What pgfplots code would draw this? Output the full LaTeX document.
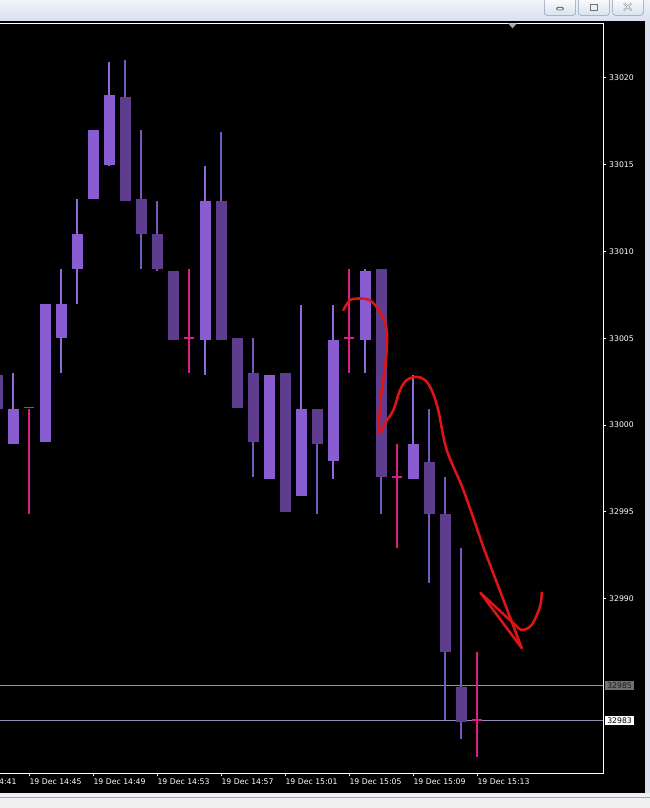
\documentclass[border=0pt]{standalone}
\usepackage{pgfplots}
\pgfplotsset{compat=1.18}
\usepackage{pgfplotstable}
\usepackage{fontspec}
\setmainfont{DejaVu Sans}

\definecolor{bullc}{HTML}{8A5CD1}
\definecolor{bearc}{HTML}{5E3D8E}
\definecolor{bullw}{HTML}{8E6CE0}
\definecolor{bearw}{HTML}{7458C0}
\definecolor{dojic}{HTML}{E01C86}
\definecolor{redc}{HTML}{E01414}
\definecolor{chrome}{HTML}{D8E2EE}
\definecolor{btnb}{HTML}{8A9BB0}

\newcommand\tfont{\fontsize{5.8pt}{7pt}\selectfont}

% minutes after 14:45, open high low close
\pgfplotstableread{
i o h l c
-1 32999 33003 32999 33001
1 32999 33007 32999 33007
2 33005 33009 33003 33007
3 33009 33013 33007 33011
4 33013 33017 33013 33017
5 33015 33021 33015 33019
11 33005 33015 33003 33013
15 32997 33003 32997 33003
17 32996 33007 32996 33001
19 32998 33007 32997 33005
21 33005 33009 33003 33009
24 32997 33003 32997 32999
}\bull
\pgfplotstableread{
i o h l c
-2 33003 33003 33001 33001
6 33019 33021 33013 33013
7 33013 33017 33009 33011
8 33011 33013 33009 33009
9 33009 33009 33005 33005
12 33013 33017 33005 33005
13 33005 33005 33001 33001
14 33003 33005 32997 32999
16 33003 33003 32995 32995
18 33001 33001 32995 32999
22 33009 33009 32995 32997
25 32998 33001 32991 32995
26 32995 32997 32983 32987
27 32985 32993 32982 32983
}\bear
\pgfplotstableread{
i o h l c
0 33001 33001 32995 33001
10 33005 33009 33003 33005
20 33005 33009 33003 33005
23 32997 32999 32993 32997
28 32983 32987 32981 32983
}\doji

\pgfplotsset{
  candle/.style n args={2}{color=#2, draw=none, mark=none, forget plot,
    error bars/.cd, y dir=both, y explicit, error mark=none,
    error bar style={line width=#1, draw=#2, solid}},
}

\begin{document}
\begin{tikzpicture}
% window chrome, pixel units from top left
\begin{scope}[x=0.75pt,y=-0.75pt]
\fill[black] (0,20) rectangle (650,793);
\shade[top color=white!60!chrome, bottom color=chrome] (0,0) rectangle (650,20.5);
\fill[chrome] (645,20) rectangle (650,808);
\fill[white!50!chrome] (0,793) rectangle (650,797);
\draw[gray!70, line width=0.75pt] (0,797.5) -- (650,797.5);
\fill[black!6] (0,798) rectangle (650,808);
\foreach \a/\b in {544.3/575.7,578.3/609.3,612.7/643.3}{
  \draw[btnb, top color=white, bottom color=chrome, rounded corners=2pt] (\a,-3) rectangle (\b,15.3);
}
\draw[black!55, rounded corners=1pt, line width=0.7pt] (556.5,7.3) rectangle (563.5,10);
\draw[black!55, line width=0.7pt] (590.7,4.5) rectangle (597.3,10.7);
\draw[black!55, line width=1.2pt] (590.7,4.6) -- (597.3,4.6);
\draw[black!50, line width=1.3pt] (624,3.2) -- (631.5,10.4) (631.5,3.2) -- (624,10.4);
\draw[white, line width=0.5pt] (624,3.2) -- (631.5,10.4) (631.5,3.2) -- (624,10.4);
\node[anchor=north west, inner sep=0pt, text=white, font=\tfont] at (-35.7,778.3) {19 Dec 14:41};
\end{scope}

\begin{axis}[
  at={(0pt,-17.475pt)}, anchor=north west,
  scale only axis, width=452.475pt, height=562.5pt,
  xmin=-1.83, xmax=35.875, ymin=32979.94, ymax=33023.14,
  axis line style={draw=none},
  clip mode=individual,
  xtick={0,4,...,28},
  xticklabels={19 Dec 14:45,19 Dec 14:49,19 Dec 14:53,19 Dec 14:57,19 Dec 15:01,19 Dec 15:05,19 Dec 15:09,19 Dec 15:13},
  ytick={32990,32995,...,33020},
  yticklabels={32990,32995,33000,33005,33010,33015,33020},
  xtick pos=bottom, ytick pos=right,
  tick align=outside, major tick length=2.25pt,
  tick style={white, line width=0.75pt},
  ticklabel style={font=\tfont, text=white, inner sep=0pt},
  xticklabel style={anchor=north west, yshift=-1.5pt},
  yticklabel style={anchor=west, xshift=2pt},
]
% level lines
\addplot[gray!85, line width=0.75pt] coordinates {(-1.83,32985) (35.875,32985)};
\addplot[white!65!blue!40!gray, line width=0.75pt] coordinates {(-1.83,32983) (35.875,32983)};
% wicks
\addplot[candle={1.3pt}{bullw}]
  table[x=i, y expr={(\thisrow{h}+\thisrow{l})/2}, y error expr={(\thisrow{h}-\thisrow{l})/2}] {\bull};
\addplot[candle={1.3pt}{bearw}]
  table[x=i, y expr={(\thisrow{h}+\thisrow{l})/2}, y error expr={(\thisrow{h}-\thisrow{l})/2}] {\bear};
\addplot[candle={1.3pt}{dojic}]
  table[x=i, y expr={(\thisrow{h}+\thisrow{l})/2}, y error expr={(\thisrow{h}-\thisrow{l})/2}] {\doji};
% bodies
\addplot[candle={8.25pt}{bullc}]
  table[x=i, y expr={(\thisrow{o}+\thisrow{c})/2}, y error expr={abs(\thisrow{c}-\thisrow{o})/2}] {\bull};
\addplot[candle={8.25pt}{bearc}]
  table[x=i, y expr={(\thisrow{o}+\thisrow{c})/2}, y error expr={abs(\thisrow{c}-\thisrow{o})/2}] {\bear};
\addplot[only marks, mark=-, mark size=3.75pt, mark options={draw=dojic, line width=1.2pt}]
  table[x=i, y=c] {\doji};
% hand drawn arrow
\addplot[redc, line width=1.9pt, smooth, tension=0.55, line cap=round, line join=round] coordinates {
(19.63,33006.62) (20.04,33007.19) (20.67,33007.29) (21.29,33007.19) (21.92,33006.52)
(22.34,33005.47) (22.29,33003.74) (22.03,33002.01) (21.88,33000.48) (21.88,32999.52)
(22.23,33000.10) (22.75,33000.86) (23.17,33002.01) (23.59,33002.59) (24.21,33002.78)
(24.73,33002.59) (25.15,33002.01) (25.56,33000.86) (26.09,32998.56) (27.13,32996.26)
(28.38,32992.96)};
\addplot[redc, line width=1.9pt, line cap=round, line join=round] coordinates {
(28.38,32992.96) (30.78,32987.15) (28.21,32990.32)};
\addplot[redc, line width=1.9pt, smooth, tension=0.55, line cap=round, line join=round] coordinates {
(28.21,32990.32) (30.25,32988.59) (30.78,32988.20) (31.40,32988.49) (31.92,32989.55) (32.03,32990.35)};
% frame and markers
\draw[white, line width=0.75pt] (rel axis cs:0,0) -- (rel axis cs:1,0) -- (rel axis cs:1,1) -- (rel axis cs:0,1);
\fill[gray!70] (axis cs:29.92,33023.14) -- (axis cs:30.48,33023.14) -- (axis cs:30.2,33022.85) -- cycle;
\node[anchor=west, fill=black!56, text=black!90, font=\tfont, inner xsep=1.6pt, inner ysep=1.2pt, xshift=1.2pt] at (axis cs:35.875,32985) {32985};
\node[anchor=west, fill=white, text=black, font=\tfont, inner xsep=1.6pt, inner ysep=1.2pt, xshift=1.2pt] at (axis cs:35.875,32983) {32983};
\end{axis}
\pgfresetboundingbox
\useasboundingbox (0,0) rectangle (487.5pt,-606pt);
\end{tikzpicture}
\end{document}
